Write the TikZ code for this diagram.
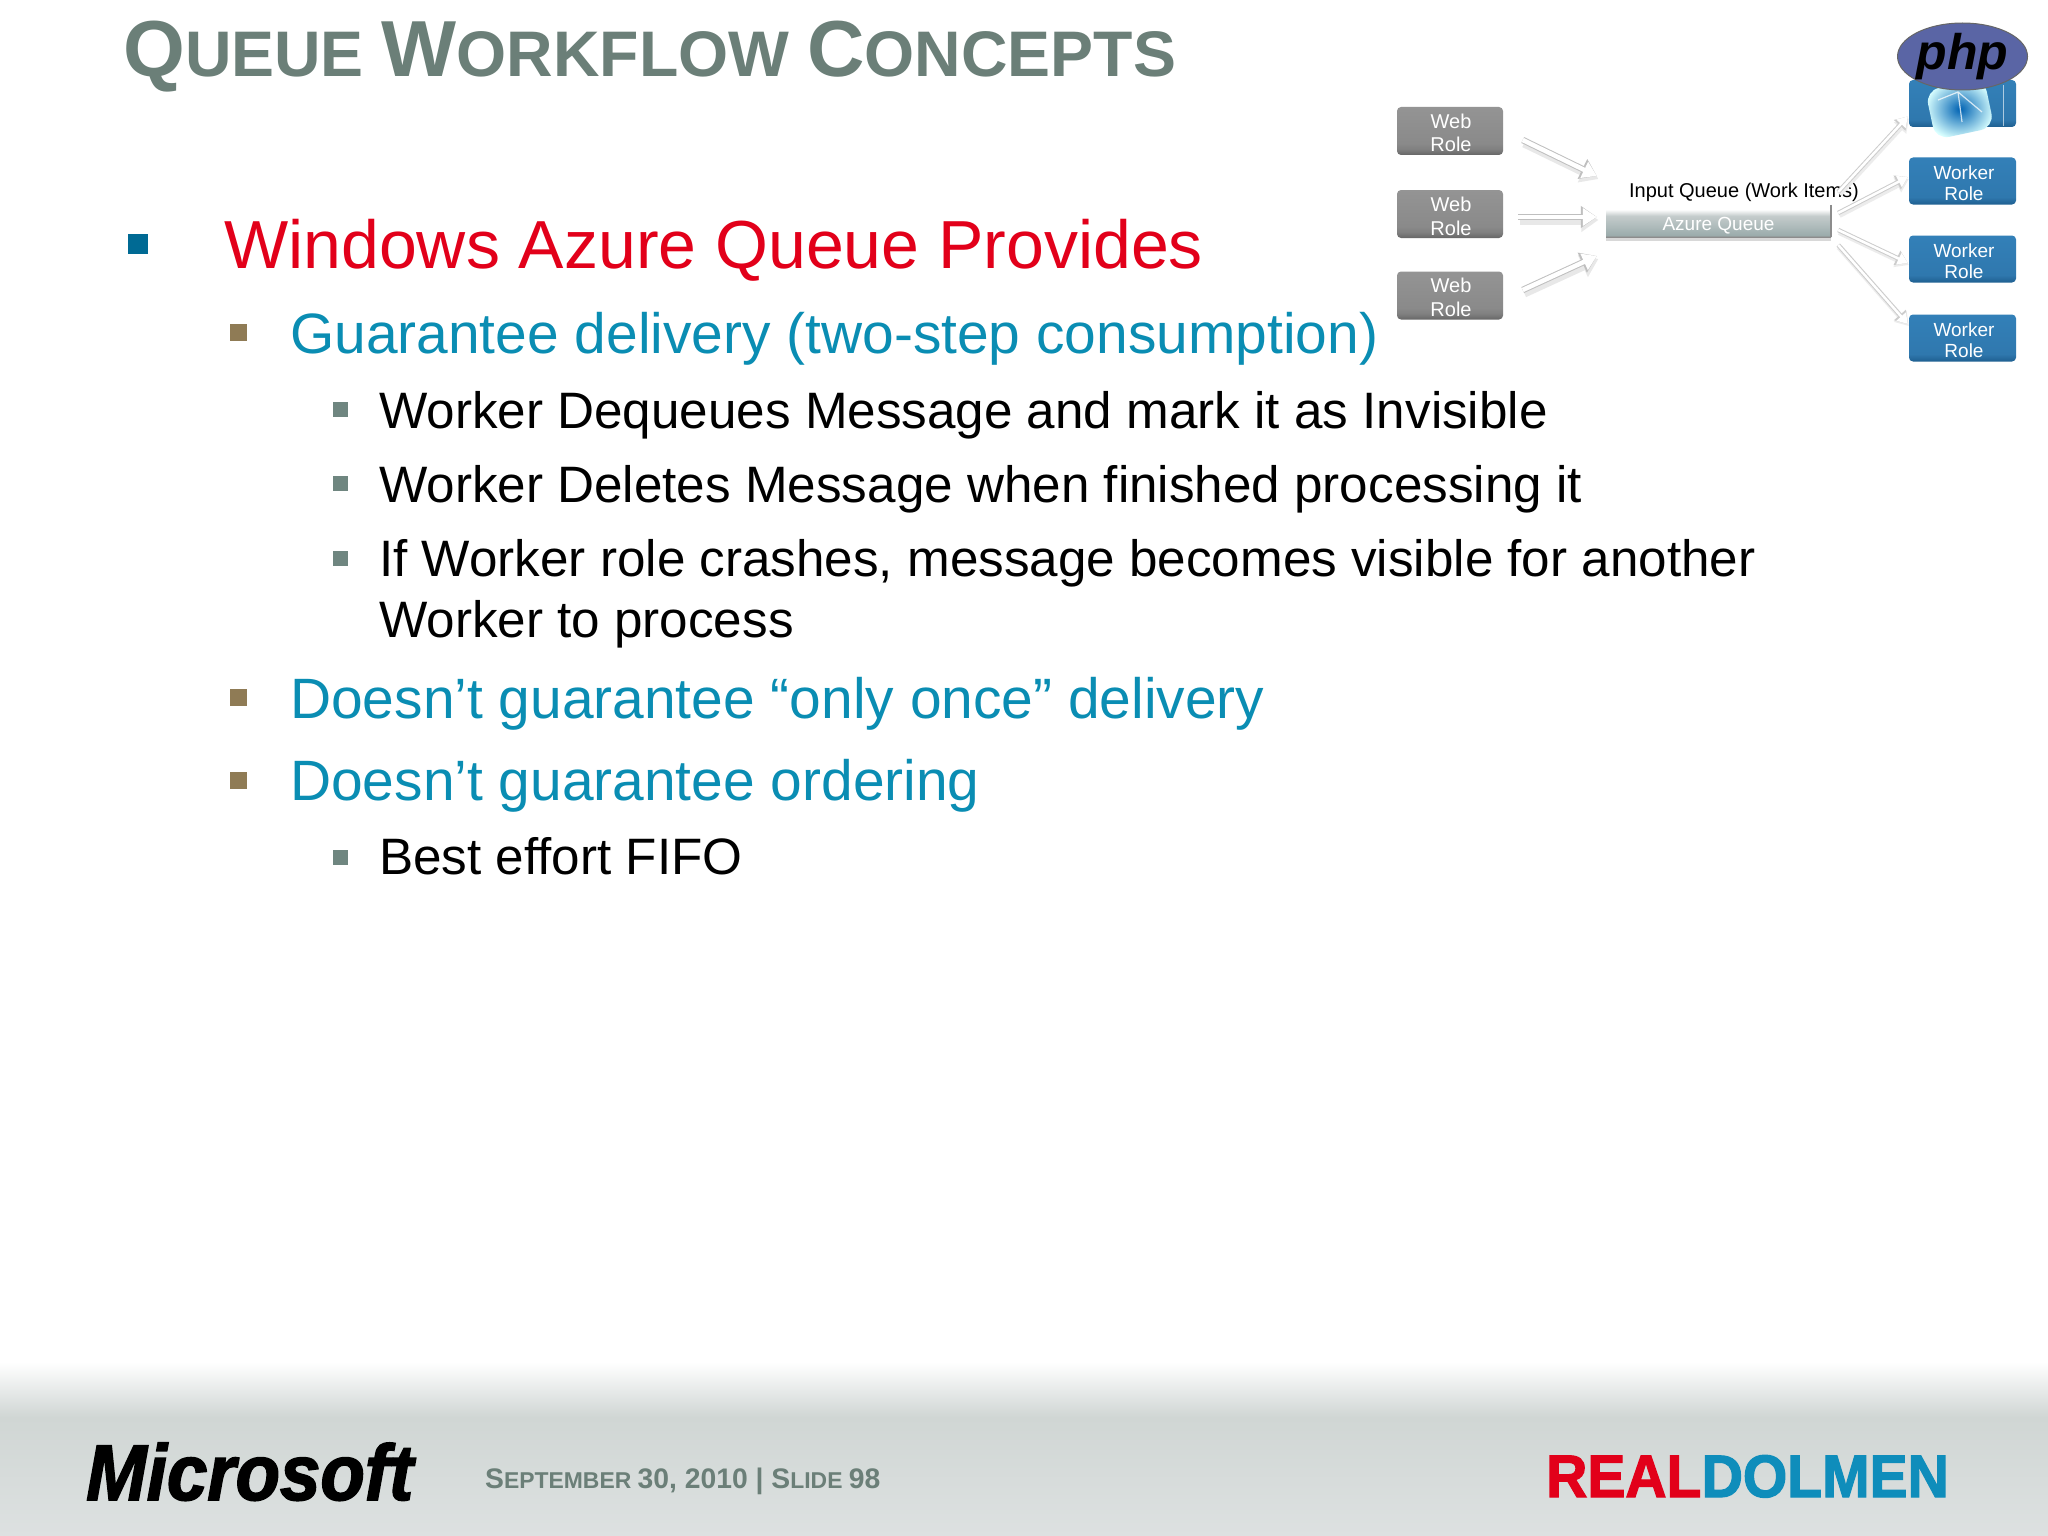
\documentclass[tikz,border=0pt]{standalone}
\usepackage{fontspec}
\setmainfont{Liberation Sans}
\newfontfamily\logofont[FakeBold=2,FakeStretch=.92]{Liberation Sans}
\newfontfamily\dolmenfont[FakeBold=2,FakeStretch=.95]{Liberation Sans}
\usetikzlibrary{arrows.meta,shadows,shapes.geometric}

\definecolor{titlegreen}{HTML}{6B7F78}
\definecolor{azurered}{HTML}{E2001A}
\definecolor{tealtext}{HTML}{0A8DB3}
\definecolor{bluebullet}{HTML}{006A94}
\definecolor{tanbullet}{HTML}{8F7B55}
\definecolor{greybullet}{HTML}{6F8680}
\definecolor{footgrey}{HTML}{D0D6D4}
\definecolor{footlow}{HTML}{DDE1E1}
\definecolor{dolmenblue}{HTML}{0F8DBB}
\definecolor{phpblue}{HTML}{5A65A5}
\definecolor{workertop}{HTML}{3380B8}
\definecolor{workermid}{HTML}{2F78AE}
\definecolor{workerlow}{HTML}{1F5F90}

\pgfdeclareverticalshading{webshade}{100bp}{color(0bp)=(black!60); color(25bp)=(black!60);
  color(31bp)=(black!50); color(37bp)=(black!46); color(75bp)=(black!42); color(100bp)=(black!42)}
\pgfdeclareverticalshading{workershade}{100bp}{color(0bp)=(workerlow); color(25bp)=(workerlow);
  color(33bp)=(workermid); color(75bp)=(workertop); color(100bp)=(workertop)}
\pgfdeclareverticalshading{queueshade}{100bp}{color(0bp)=(black!45); color(25bp)=(black!45);
  color(28bp)=(teal!20!gray!65); color(58bp)=(teal!15!gray!40); color(68bp)=(white); color(100bp)=(white)}

\newcommand{\tcap}[1]{{\fontsize{79.5}{79.5}\selectfont #1}}
\newcommand{\fcap}[1]{{\fontsize{28.3}{28.3}\selectfont #1}}
\newcommand{\webtext}{\hspace{2pt}\raisebox{-21pt}[0pt][0pt]{\shortstack{Web\\[6pt]Role}}}
\newcommand{\workertext}{\hspace{3pt}\raisebox{-19pt}[0pt][0pt]{\shortstack{Worker\\[4pt]Role}}}

\tikzset{
  every node/.style={inner sep=0pt},
  levelone/.style={anchor=base west, text=azurered, font=\fontsize{68}{68}\selectfont},
  leveltwo/.style={anchor=base west, text=tealtext, font=\fontsize{56.9}{56.9}\selectfont},
  levelthree/.style={anchor=base west, text=black, font=\fontsize{51.2}{51.2}\selectfont},
  webrole/.style={minimum width=106pt, minimum height=48pt, rounded corners=4pt,
    shading=webshade, text=white, align=center, font=\fontsize{20}{24}\selectfont},
  workerrole/.style={minimum width=107pt, minimum height=47pt, rounded corners=4pt,
    shading=workershade, text=white, align=center, font=\fontsize{19}{20.5}\selectfont},
  flow/.style={line width=4.5pt, white, -{Triangle[length=14pt,width=17pt]},
    preaction={draw=gray!18, line width=9pt, transform canvas={xshift=1.5pt,yshift=-3pt}, -{Triangle[length=17pt,width=23pt]}},
    preaction={draw=gray!50, line width=6.5pt, -{Triangle[length=16pt,width=21pt]}}},
  thinflow/.style={line width=2.5pt, white, -{Triangle[length=10pt,width=12pt]},
    preaction={draw=gray!15, line width=6pt, transform canvas={xshift=1pt,yshift=-2pt}, -{Triangle[length=13pt,width=16pt]}},
    preaction={draw=gray!40, line width=4.5pt, -{Triangle[length=12pt,width=15pt]}}},
}

\begin{document}
\begin{tikzpicture}[x=1pt,y=-1pt]
  \useasboundingbox (0,0) rectangle (2048,1536);
  \fill[white] (0,0) rectangle (2048,1536);

  % footer band
  \shade[top color=white, bottom color=footgrey] (0,1362) rectangle (2048,1417);
  \shade[top color=footgrey, bottom color=footlow] (0,1417) rectangle (2048,1536);

  \node[anchor=base west, text=titlegreen, font=\bfseries\fontsize{64.4}{64.4}\selectfont] (title) at (123,77)
    {\tcap{Q}UEUE \tcap{W}ORKFLOW \tcap{C}ONCEPTS};

  \node[fill=bluebullet, minimum size=20pt] (b1) at (138,244) {};
  \node[levelone] (t1) at (224,268.5) {Windows Azure Queue Provides};

  \node[fill=tanbullet, minimum size=17pt] (b2) at (238.5,332) {};
  \node[leveltwo] (t2) at (290,353.5) {Guarantee delivery (two-step consumption)};

  \node[fill=greybullet, minimum size=15pt] (b3) at (340,409) {};
  \node[levelthree] (t3) at (379,428) {Worker Dequeues Message and mark it as Invisible};
  \node[fill=greybullet, minimum size=15pt] (b4) at (340,483) {};
  \node[levelthree] (t4) at (379,502) {Worker Deletes Message when finished processing it};
  \node[fill=greybullet, minimum size=15pt] (b5) at (340,558) {};
  \node[levelthree] (t5) at (379,576) {If Worker role crashes, message becomes visible for another};
  \node[levelthree] (t6) at (379,637) {Worker to process};

  \node[fill=tanbullet, minimum size=17pt] (b6) at (238.5,697) {};
  \node[leveltwo] (t7) at (290,718.5) {Doesn’t guarantee “only once” delivery};
  \node[fill=tanbullet, minimum size=17pt] (b7) at (238.5,780) {};
  \node[leveltwo] (t8) at (290,800.5) {Doesn’t guarantee ordering};
  \node[fill=greybullet, minimum size=15pt] (b8) at (340,857) {};
  \node[levelthree] (t9) at (379,874) {Best effort FIFO};

  % roles and queue
  \node[webrole] (web1) at (1450,131) {\webtext};
  \node[webrole] (web2) at (1450,214) {\webtext};
  \node[webrole] (web3) at (1450,295.5) {\webtext};

  \node[font=\fontsize{20}{20}\selectfont] (label) at (1744,192.5) {Input Queue (Work Items)};
  \node[minimum width=225pt, minimum height=32pt, shading=queueshade,
    drop shadow={opacity=.3,shadow xshift=0pt,shadow yshift=-4pt},
    text=white, font=\fontsize{19}{19}\selectfont] (queue) at (1718.5,221) {\raisebox{-9pt}[0pt][0pt]{Azure Queue}};
  \draw[black!45, line width=1.5pt] (queue.north east) -- (queue.south east);

  \node[workerrole] (worker0) at (1962.5,103.5) {};
  \node[workerrole] (worker1) at (1962.5,181) {\workertext};
  \node[workerrole] (worker2) at (1962.5,259) {\workertext};
  \node[workerrole] (worker3) at (1962.5,338) {\workertext};

  % globe and php badge
  \draw[white, opacity=.6, line width=1pt] (2003,85) -- (2003,126);
  \shade[rotate around={12:(1960,110)}, rounded corners=14pt, inner color=cyan!55!blue!70!black, outer color=cyan!15!white]
    (1930,84) rectangle (1990,134);
  \draw[white, line width=1.2pt, opacity=.75] (1938,100) -- (1958,92) -- (1982,112) (1958,92) -- (1962,122);
  \node[ellipse, minimum width=130pt, minimum height=67pt, fill=phpblue, draw=black!60, line width=1pt,
    font=\bfseries\itshape\fontsize{50}{50}\selectfont, text=black] (php) at (1962.5,56.5) {php};

  % arrows in
  \draw[flow] ([shift={(19.5,9)}]web1.east) -- ([shift={(-9,-45)}]queue.west);
  \draw[flow] ([shift={(15,3)}]web2.east) -- ([shift={(-9,-4)}]queue.west);
  \draw[flow] ([shift={(19.5,-5.5)}]web3.east) -- ([shift={(-9,35)}]queue.west);

  % arrows out
  \draw[thinflow] ([shift={(7,-29)}]queue.east) -- ([shift={(-1,13)}]worker0.west);
  \draw[thinflow] ([shift={(7,-8)}]queue.east) -- ([shift={(-1,-4)}]worker1.west);
  \draw[thinflow] ([shift={(7,9)}]queue.east) -- ([shift={(-1,4)}]worker2.west);
  \draw[thinflow] ([shift={(7,24)}]queue.east) -- ([shift={(-1,-14)}]worker3.west);

  % footer
  \node[anchor=base west, font=\logofont\bfseries\itshape\fontsize{79}{79}\selectfont, text=black] (msft) at (86,1500) {Microsoft};
  \node[anchor=base west, text=titlegreen, font=\bfseries\fontsize{22.9}{22.9}\selectfont] (foot) at (485,1488)
    {\fcap{S}EPTEMBER \fcap{30, 2010 | S}LIDE \fcap{98}};
  \node[anchor=base west, text=azurered, font=\dolmenfont\bfseries\fontsize{60}{60}\selectfont] (real) at (1546,1497) {REAL};
  \node[anchor=base west, text=dolmenblue, font=\dolmenfont\bfseries\fontsize{60}{60}\selectfont] (dolmen) at (real.base east) {DOLMEN};
\end{tikzpicture}
\end{document}
